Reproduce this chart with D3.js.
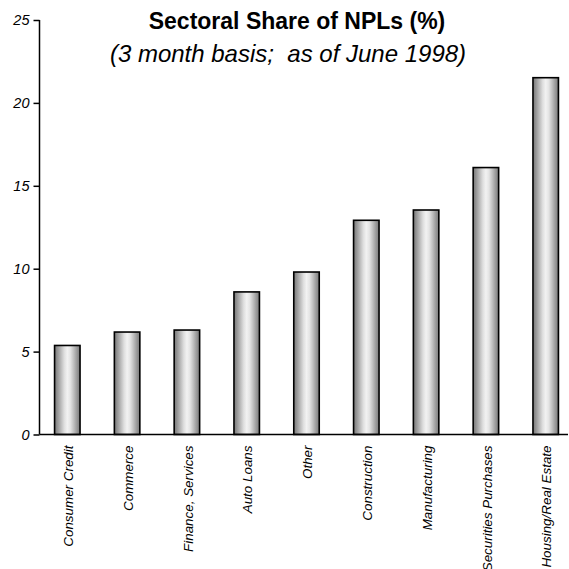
<!DOCTYPE html>
<html>
<head>
<meta charset="utf-8">
<script src="https://cdn.jsdelivr.net/npm/d3@7"></script>
<style>
  html, body { margin: 0; padding: 0; background: #fff; }
  svg { display: block; font-family: "Liberation Sans", Arial, sans-serif; }
</style>
</head>
<body>
<svg id="chart" width="569" height="569"></svg>
<script>
// Sectoral share of non-performing loans, percent
const sectors = ["Consumer Credit", "Commerce", "Finance, Services", "Auto Loans", "Other",
                 "Construction", "Manufacturing", "Securities Purchases", "Housing/Real Estate"];
const shares = [5.37, 6.18, 6.3, 8.6, 9.8, 12.92, 13.54, 16.1, 21.52];
const yTicks = [0, 5, 10, 15, 20, 25];

const titleText = "Sectoral Share of NPLs (%)";
const subtitleText = "(3 month basis;  as of June 1998)";

const svg = d3.select("#chart");

const x = d3.scaleBand()
  .domain(sectors)
  .range([37.4, 575.6])
  .paddingInner(0.574)
  .paddingOuter(0.287);

const y = d3.scaleLinear()
  .domain([0, 25])
  .range([434.5, 20]);

// cylinder-like shading across each bar
const grad = svg.append("defs").append("linearGradient")
  .attr("id", "barShade")
  .attr("x1", "0%").attr("x2", "100%").attr("y1", "0%").attr("y2", "0%");
[
  [0, "#767676"], [0.12, "#969696"], [0.25, "#bababa"], [0.38, "#dedede"],
  [0.5, "#f2f2f2"], [0.62, "#e4e4e4"], [0.75, "#c0c0c0"], [0.88, "#9a9a9a"], [1, "#7a7a7a"]
].forEach(([o, c]) => grad.append("stop").attr("offset", o).attr("stop-color", c));

// bars
svg.append("g")
  .selectAll("rect")
  .data(sectors)
  .join("rect")
  .attr("x", d => x(d))
  .attr("width", x.bandwidth())
  .attr("y", (d, i) => y(shares[i]))
  .attr("height", (d, i) => y(0) - y(shares[i]))
  .attr("fill", "url(#barShade)")
  .attr("stroke", "#000")
  .attr("stroke-width", 1.6);

// y axis
const yAxis = svg.append("g")
  .attr("transform", "translate(39.5,0)")
  .call(d3.axisLeft(y).tickValues(yTicks).tickSize(6).tickPadding(4).tickFormat(d3.format("d")));
yAxis.select(".domain").attr("d", `M0,${y(25)}V${y(0)}`).attr("stroke-width", 1.5);
yAxis.selectAll(".tick line").attr("stroke-width", 1.5);
yAxis.selectAll(".tick text")
  .style("font-size", "14.5px")
  .style("font-style", "italic")
  .style("font-family", "'Liberation Sans', Arial, sans-serif")
  .attr("fill", "#000");

// x axis baseline with rotated category labels
const xAxis = svg.append("g")
  .attr("transform", `translate(0,${y(0)})`)
  .call(d3.axisBottom(x).tickSize(0).tickPadding(0));
xAxis.select(".domain").attr("d", "M39.5,0H568").attr("stroke-width", 1.5);
xAxis.selectAll(".tick text")
  .style("font-size", "13.4px")
  .style("font-style", "italic")
  .style("font-family", "'Liberation Sans', Arial, sans-serif")
  .attr("fill", "#000")
  .attr("text-anchor", "end")
  .attr("transform", "translate(1,11) rotate(-90)")
  .attr("x", 0)
  .attr("y", 0)
  .attr("dx", 0)
  .attr("dy", "0.35em");

// titles
svg.append("text")
  .attr("x", 297)
  .attr("y", 29)
  .attr("text-anchor", "middle")
  .attr("font-size", 23)
  .attr("font-weight", "bold")
  .text(titleText);

svg.append("text")
  .attr("x", 288)
  .attr("y", 62)
  .attr("text-anchor", "middle")
  .attr("font-size", 24)
  .attr("font-style", "italic")
  .style("white-space", "pre")
  .text(subtitleText);
</script>
</body>
</html>
